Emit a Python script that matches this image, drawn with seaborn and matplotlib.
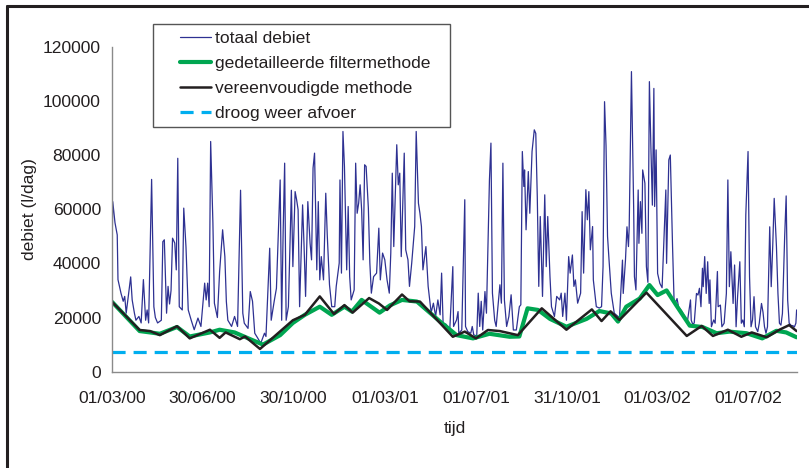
import numpy as np
import pandas as pd
import matplotlib
matplotlib.use("Agg")
import matplotlib.pyplot as plt
import matplotlib.ticker as mticker
from matplotlib.lines import Line2D
from matplotlib.patches import Rectangle
import seaborn as sns

# ---------------------------------------------------------
# Data, day offsets from 01/03/2000
# values in 1000 l/dag
# ---------------------------------------------------------
START = pd.Timestamp("2000-03-01")

total_days = [
    0, 1, 4, 7, 8, 12, 15, 17, 19, 21, 25, 27, 30, 32, 36, 39, 42, 45, 47, 49,
    53, 56, 58, 61, 66, 68, 70, 73, 75, 77, 79, 81, 84, 86, 88, 90, 94, 96, 99, 102,
    106, 110, 115, 119, 124, 126, 128, 130, 132, 135, 137, 141, 144, 148, 151, 153, 155, 160, 164, 168,
    172, 175, 177, 182, 185, 188, 191, 195, 199, 204, 206, 211, 213, 217, 220,
    225, 227, 229, 231, 233, 236, 240, 242, 245, 247, 249, 251, 255, 257, 259, 262, 265, 267, 269, 271,
    274, 276, 278, 280, 283, 286, 288, 291, 294, 298, 300, 304, 305, 307, 309, 311, 314, 316, 318, 320,
    324, 326, 328, 330, 332, 334, 336, 338, 340, 343, 345, 347, 350, 354, 357, 359, 362, 365, 368, 371,
    373, 375, 377, 381, 383, 385, 387, 391, 393, 396, 398, 401, 405, 407, 410, 412, 414, 416, 420, 423,
    425, 427, 430, 433, 436, 439, 441, 443, 447, 450,
    452, 456, 457, 461, 463, 464, 468, 472, 473, 476, 480, 482, 484, 488, 490, 492, 494, 496, 499, 501,
    505, 507, 509, 512, 514, 519, 521, 523, 525, 528, 531, 534, 537, 541, 545, 547, 549, 551, 552, 554,
    557, 559, 562, 565, 567, 569, 571, 573, 576, 579, 581, 583, 586, 588, 592, 595, 599, 601, 603, 606,
    608, 611, 613, 616, 618, 620, 623, 627, 629, 631, 634, 636, 638, 640, 643, 644, 648, 652, 655, 657,
    659, 661, 663, 665, 668, 672, 677,
    679, 683, 684, 687, 689, 691, 692, 695, 698, 699, 701, 704, 705, 707, 709, 710, 713, 715, 717, 719,
    721, 723, 725, 726, 728, 730, 733, 736, 741, 742, 745, 747, 750, 752, 754, 756, 758, 762, 764, 766,
    768, 770, 774, 775, 777, 779, 782, 784, 786, 788, 790, 791, 793, 795, 797, 799, 800, 802, 805, 807,
    810, 811, 814, 816, 819, 822, 824, 826, 828, 831, 833, 835, 837, 840, 842, 844, 846, 848, 851, 853,
    855, 857, 859, 861, 864, 866, 869, 871, 873, 875, 877, 880, 882, 884, 886, 889, 891, 893, 895, 897,
    900, 902, 904, 906, 909, 911, 913, 915, 916,
]
total_flow = [
    44, 62.8, 55, 50.5, 34, 29, 26, 27.8, 21.6, 26, 35, 26.5, 21.6, 19, 20.4, 18, 34, 19, 22.8, 18,
    71, 24, 20, 18, 19, 48, 48.7, 21.6, 31.5, 25, 30, 49.3, 47.5, 37.6, 78.8, 24, 22.8, 60.4, 46, 22.8,
    19, 15.5, 19.8, 16.7, 32.7, 26.5, 32.7, 24, 85, 55, 25.3, 20, 37, 52.4, 42.5, 25.9, 19, 16.7, 20.4, 16.7,
    67, 21.6, 17.9, 16, 29.6, 26, 14.2, 12.4, 10.5, 14.2, 13, 45.6, 19, 26, 30.8,
    70.8, 19, 51.8, 77, 19, 24, 67, 38.8, 66.5, 63.5, 59.8, 24, 61.6, 46.2, 27.8, 62.8, 47.5, 41.3, 75.2, 80.7,
    37.6, 62.8, 33.9, 42.5, 33.9, 65.9, 50.5, 32.1, 24, 24, 31.5, 40.1, 70.8, 36.4, 88.7, 75.8, 37.6, 61, 35.1, 26.5,
    30.2, 77, 58.5, 62.2, 69, 59.8, 41.3, 76.4, 75.8, 60.4, 40.1, 29, 35.1, 36.4, 53, 33.9, 43.8, 41.3, 33.9, 29,
    43.8, 73.3, 46.2, 83.8, 69, 73.3, 42.5, 80.7, 45, 41.3, 31.5, 40.1, 53.6, 88.7, 62.2, 58.5, 53.6, 37.6, 46.2, 31.5,
    26.5, 21.8, 25.3, 20.5, 26.5, 21, 36.4, 17.9, 17.5, 16.2,
    16, 38.8, 16.7, 19.1, 22.2, 14.2, 15.4, 63.5, 16.7, 14.8, 14.2, 16.7, 13.6, 13.2, 29, 16.7, 26, 15.4, 29.6, 21.6,
    70.8, 84.4, 29, 19, 16.7, 32.1, 25.3, 77, 26.5, 16.7, 20.4, 28.4, 15.4, 15.4, 24, 24.7, 81.3, 68.4, 74.5, 52.4,
    73.9, 58.5, 81.3, 89.3, 88, 64.7, 31.5, 57.3, 27.8, 65.3, 38.8, 57.3, 35.1, 24, 20.4, 27.8, 26.5, 29, 20.4, 29,
    19, 42.5, 36.4, 43.1, 31.5, 33.9, 25.3, 29, 59.1, 36.4, 67.2, 56.1, 66.5, 45, 53.6, 33.9, 24, 23.5, 24, 38.8,
    99.7, 83.4, 50, 41.3, 29, 21.6, 20.4,
    20, 41.2, 28.9, 41.2, 53.5, 46.2, 53.5, 110.8, 59.7, 35.1, 30.2, 67.1, 47.4, 62.8, 51.1, 74.5, 69.6, 38.8, 33, 107.1,
    83.1, 61.5, 104.6, 61, 81.9, 36.3, 32.6, 31, 67.1, 40, 78.2, 80, 46.2, 26.5, 25.5, 27, 24, 22.5, 21.5, 20.5,
    19.5, 18.8, 26.5, 19, 17.5, 18, 28.9, 28.3, 30.8, 24, 38.2, 31.4, 42.5, 28.9, 40.6, 25.2, 33.9, 16.6, 19.1, 17.9,
    37, 24, 24.6, 16.6, 17.9, 28.9, 70.8, 31.4, 44.3, 25.2, 39.4, 16.6, 27.7, 40.6, 17.9, 19.1, 16.6, 57.9, 81.3, 35.1,
    16.6, 19.1, 27.7, 16.6, 14.8, 17.9, 25.2, 22, 16.6, 14.2, 16.6, 53.5, 31.4, 46.2, 64, 46.2, 28.9, 17.9, 17.2, 21.5,
    49.9, 64.9, 26.5, 17.9, 17, 17, 16.5, 17.9, 22.8,
]

filter_days = [
    0, 37, 51, 64, 87, 104, 131, 144, 164, 185, 202, 225, 242, 258, 278, 294, 311, 321, 334, 358,
    372, 388, 408, 439, 461, 483, 505, 532, 545, 556, 570, 586, 608, 635, 652, 668, 677, 688, 706, 719,
    730, 742, 755, 773, 790, 809, 826, 849, 870, 889, 902, 916,
]
filter_flow = [
    25.8, 15.0, 14.5, 14.0, 16.5, 13.0, 14.5, 15.5, 14.5, 12.0, 10.0, 13.5, 18.0, 21.0, 24.0, 21.0, 24.0, 22.2, 26.5, 21.8,
    24.5, 26.5, 25.9, 18.5, 13.5, 12.3, 14.0, 12.9, 13.0, 23.4, 22.8, 19.5, 16.6, 19.5, 22.4, 21.5, 18.5, 24.0, 27.0, 32.0,
    28.3, 30.0, 24.5, 17.0, 16.5, 14.2, 14.8, 14.2, 12.3, 15.1, 14.5, 12.7,
]

simple_days = [
    0, 37, 51, 64, 87, 104, 131, 144, 152, 171, 178, 198, 242, 258, 278, 297, 311, 322, 344, 357,
    368, 388, 398, 412, 456, 472, 487, 503, 519, 543, 575, 608, 642, 655, 667, 679, 715, 769, 789, 804,
    824, 842, 856, 876, 893, 906, 916,
]
simple_flow = [
    25.8, 15.4, 15.0, 13.5, 16.8, 12.3, 15.5, 12.5, 14.5, 12.0, 13.0, 8.4, 19.0, 21.0, 27.8, 21.3, 24.6, 21.8, 27.2, 25.2,
    22.8, 28.5, 26.0, 25.9, 12.9, 14.8, 12.3, 15.4, 15.0, 13.5, 23.4, 15.5, 23.0, 18.7, 22.3, 19.1, 29.2, 13.2, 16.9, 13.2,
    15.5, 12.9, 14.5, 12.7, 15.5, 17.2, 15.0,
]

dry_days = [0, 916]
dry_flow = [7.4, 7.4]

labels = ["totaal debiet", "gedetailleerde filtermethode",
          "vereenvoudigde methode", "droog weer afvoer"]
tick_dates = ["2000-03-01", "2000-06-30", "2000-10-30", "2001-03-01",
              "2001-07-01", "2001-10-31", "2002-03-01", "2002-07-01"]


def to_frame(days, flow):
    return pd.DataFrame({
        "datum": START + pd.to_timedelta(days, unit="D"),
        "debiet": np.array(flow) * 1000.0,
    })


sns.set_theme(style="white")
plt.rcParams["font.family"] = ["Liberation Sans", "DejaVu Sans"]
INK = "#231f20"
FS = 12.6

fig = plt.figure(figsize=(8.09, 4.68), dpi=100)
ax = fig.add_axes([112 / 809, 1 - 371.7 / 468, 685 / 809, 325 / 468])

sns.lineplot(data=to_frame(total_days, total_flow), x="datum", y="debiet", ax=ax,
             color="#2e3192", linewidth=0.9, label=labels[0])
sns.lineplot(data=to_frame(filter_days, filter_flow), x="datum", y="debiet", ax=ax,
             color="#00a651", linewidth=3.0, label=labels[1])
sns.lineplot(data=to_frame(simple_days, simple_flow), x="datum", y="debiet", ax=ax,
             color=INK, linewidth=1.8, label=labels[2])
sns.lineplot(data=to_frame(dry_days, dry_flow), x="datum", y="debiet", ax=ax,
             color="#00aeef", linewidth=2.3, linestyle=(0, (4.1, 2.5)), label=labels[3])

ax.set_xlim(START, START + pd.Timedelta(days=916.5))
ax.set_ylim(0, 120000)
ax.set_yticks(np.arange(0, 120001, 20000))
ax.yaxis.set_major_formatter(mticker.FuncFormatter(lambda v, p: f"{int(v)}"))
ticks = pd.to_datetime(tick_dates)
ax.set_xticks(ticks)
ax.set_xticklabels([t.strftime("%d/%m/%y") for t in ticks])

for side in ["top", "right"]:
    ax.spines[side].set_visible(False)
for side in ["left", "bottom"]:
    ax.spines[side].set_color("#8a8a8a")
    ax.spines[side].set_linewidth(1.0)
ax.tick_params(axis="both", which="major", direction="out", color="#8a8a8a",
               labelsize=FS, labelcolor=INK)
ax.tick_params(axis="x", length=4, width=1, pad=10)
ax.tick_params(axis="y", length=3, width=1, pad=5)
ax.grid(False)

ax.set_xlabel("tijd", fontsize=FS, color=INK)
ax.set_ylabel("debiet (l/dag)", fontsize=FS, color=INK)
ax.xaxis.set_label_coords(0.5, -0.151)
ax.yaxis.set_label_coords(-0.11, 0.5)

# legend without frame, box drawn separately
leg = ax.legend(loc="upper left", bbox_to_anchor=(180 / 809, 1 - 31 / 468),
                bbox_transform=fig.transFigure, frameon=False, fontsize=FS,
                handlelength=1.77, handletextpad=0.25, labelspacing=0.56,
                borderpad=0, borderaxespad=0)
for txt in leg.get_texts():
    txt.set_color(INK)
fig.add_artist(Rectangle((153 / 809, 1 - 127 / 468), 297 / 809, 103 / 468,
                         transform=fig.transFigure, fill=False,
                         edgecolor="#555555", linewidth=1.0))

# outer frame (left and top)
fig.add_artist(Line2D([7 / 809, 7 / 809], [0, 1 - 6 / 468], transform=fig.transFigure,
                      color=INK, linewidth=2.2))
fig.add_artist(Line2D([7 / 809, 1], [1 - 6 / 468, 1 - 6 / 468], transform=fig.transFigure,
                      color=INK, linewidth=2.2))

fig.savefig("out.png", dpi=100, facecolor="white")
